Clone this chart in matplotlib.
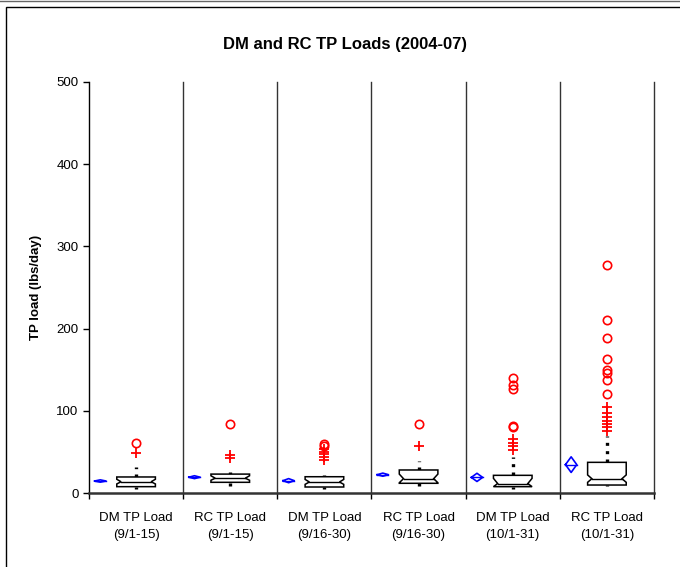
import matplotlib

matplotlib.use("Agg")

import matplotlib.pyplot as plt
from matplotlib.lines import Line2D
from matplotlib.patches import Rectangle

plt.rcParams["font.family"] = ["Liberation Sans", "DejaVu Sans"]

LABELS = [
    "DM TP Load\n(9/1-15)",
    "RC TP Load\n(9/1-15)",
    "DM TP Load\n(9/16-30)",
    "RC TP Load\n(9/16-30)",
    "DM TP Load\n(10/1-31)",
    "RC TP Load\n(10/1-31)",
]

# mean with confidence band (blue diamonds)
MEANS = [14.6, 19.2, 15.0, 22.3, 19.0, 34.5]
MEAN_LO = [13.2, 17.5, 12.5, 20.4, 14.0, 25.0]
MEAN_HI = [16.0, 21.0, 17.5, 24.2, 24.0, 44.0]

# box statistics
Q1 = [7.7, 13.0, 7.3, 11.8, 7.7, 9.7]
MED = [13.7, 18.0, 13.4, 17.4, 11.5, 17.4]
Q3 = [19.5, 23.0, 19.8, 28.0, 21.5, 37.3]
NOTCH_LO = [11.0, 15.5, 10.5, 12.5, 7.7, 13.0]
NOTCH_HI = [16.7, 21.0, 16.5, 23.0, 17.8, 22.0]
WHISK_LO = [5.0, 9.0, 5.0, 8.5, 5.0, 8.0]
WHISK_HI = [32.0, 25.0, 22.0, 39.0, 44.0, 69.0]

# outliers: '+' = near outliers, 'o' = far outliers
NEAR_OUT = [
    [49.0],
    [46.0, 42.5],
    [53.0, 50.0, 47.0, 44.0, 40.0],
    [57.6],
    [66.0, 61.0, 57.0, 52.0],
    [105.0, 97.0, 92.0, 88.0, 84.0, 80.0, 76.0],
]
FAR_OUT = [
    [61.0],
    [83.5],
    [60.0, 57.5],
    [83.5],
    [140.0, 131.0, 127.0, 82.0, 80.0],
    [277.0, 210.0, 188.0, 163.0, 150.0, 146.0, 137.5, 121.0],
]

BOX_W = 0.41
NOTCH_D = 0.045
DIAMOND_OFF = -0.38
DIAMOND_W = 0.06


def draw_box(ax, x, q1, med, q3, nlo, nhi):
    left, right = x - BOX_W / 2, x + BOX_W / 2
    xs = [left, right, right, right - NOTCH_D, right, right,
          left, left, left + NOTCH_D, left, left]
    ys = [q3, q3, nhi, med, nlo, q1, q1, nlo, med, nhi, q3]
    ax.fill(xs, ys, facecolor="white", edgecolor="black", linewidth=1.1, zorder=3)
    ax.plot([left + NOTCH_D, right - NOTCH_D], [med, med], color="black",
            linewidth=1.0, zorder=4)


def main() -> None:
    fig = plt.figure(figsize=(6.8, 5.67), dpi=100)
    ax = fig.add_axes([89 / 680, 1 - 493 / 567, (654 - 89) / 680, (493 - 82) / 567])

    n = len(LABELS)
    for i in range(n):
        # whiskers (dotted)
        ax.plot([i, i], [Q3[i], WHISK_HI[i]], color="black", linewidth=2.4,
                linestyle=(0, (0.9, 1.6)), zorder=2)
        ax.plot([i, i], [WHISK_LO[i], Q1[i]], color="black", linewidth=2.4,
                linestyle=(0, (0.9, 1.6)), zorder=2)
        draw_box(ax, i, Q1[i], MED[i], Q3[i], NOTCH_LO[i], NOTCH_HI[i])

        # mean diamond
        xd = i + DIAMOND_OFF
        ax.plot([xd - DIAMOND_W, xd, xd + DIAMOND_W, xd, xd - DIAMOND_W],
                [MEANS[i], MEAN_HI[i], MEANS[i], MEAN_LO[i], MEANS[i]],
                color="#0000ff", linewidth=1.2, zorder=3)
        ax.plot([xd - DIAMOND_W, xd + DIAMOND_W], [MEANS[i], MEANS[i]],
                color="#0000ff", linewidth=1.0, zorder=3)

        ax.plot([i] * len(NEAR_OUT[i]), NEAR_OUT[i], linestyle="none", marker="+",
                markersize=7, markeredgewidth=1.3, color="#ff0000", zorder=4)
        ax.plot([i] * len(FAR_OUT[i]), FAR_OUT[i], linestyle="none", marker="o",
                markersize=6, markerfacecolor="none", markeredgewidth=1.2,
                markeredgecolor="#ff0000", zorder=4)

    for i in range(n):
        ax.axvline(i + 0.5, color="#333333", linewidth=1.0, zorder=1, clip_on=False)

    ax.set_xlim(-0.5, n - 0.5)
    ax.set_ylim(0, 500)
    ax.set_yticks(range(0, 501, 100))
    ax.set_xticks(range(n))
    ax.set_xticklabels(LABELS, fontsize=9.5, linespacing=1.55)
    ax.set_xticks([i - 0.5 for i in range(n + 1)], minor=True)
    ax.tick_params(axis="x", which="major", length=0, pad=14)
    ax.tick_params(axis="x", which="minor", length=4, direction="out", width=1)
    ax.tick_params(axis="y", length=4, direction="out", labelsize=9.5, width=1)

    for side in ("top", "right"):
        ax.spines[side].set_visible(False)
    ax.spines["left"].set_linewidth(1.0)
    ax.spines["bottom"].set_linewidth(1.8)
    ax.spines["bottom"].set_color("#333333")

    ax.set_ylabel("TP load (lbs/day)", fontsize=9.5, fontweight="bold", labelpad=10)
    fig.text(345 / 680, 1 - 45 / 567, "DM and RC TP Loads (2004-07)", fontsize=12,
             fontweight="bold", ha="center", va="center")

    # outer chart frame
    fig.add_artist(Rectangle((6 / 680, -0.1), 1.0, 1 - 7 / 567 + 0.1,
                             transform=fig.transFigure, fill=False,
                             edgecolor="black", linewidth=1.0))
    fig.add_artist(Line2D([0, 1], [1 - 0.5 / 567] * 2, transform=fig.transFigure,
                          color="#666666", linewidth=1.0))

    fig.savefig("out.png", dpi=100)
    plt.close(fig)


if __name__ == "__main__":
    main()
